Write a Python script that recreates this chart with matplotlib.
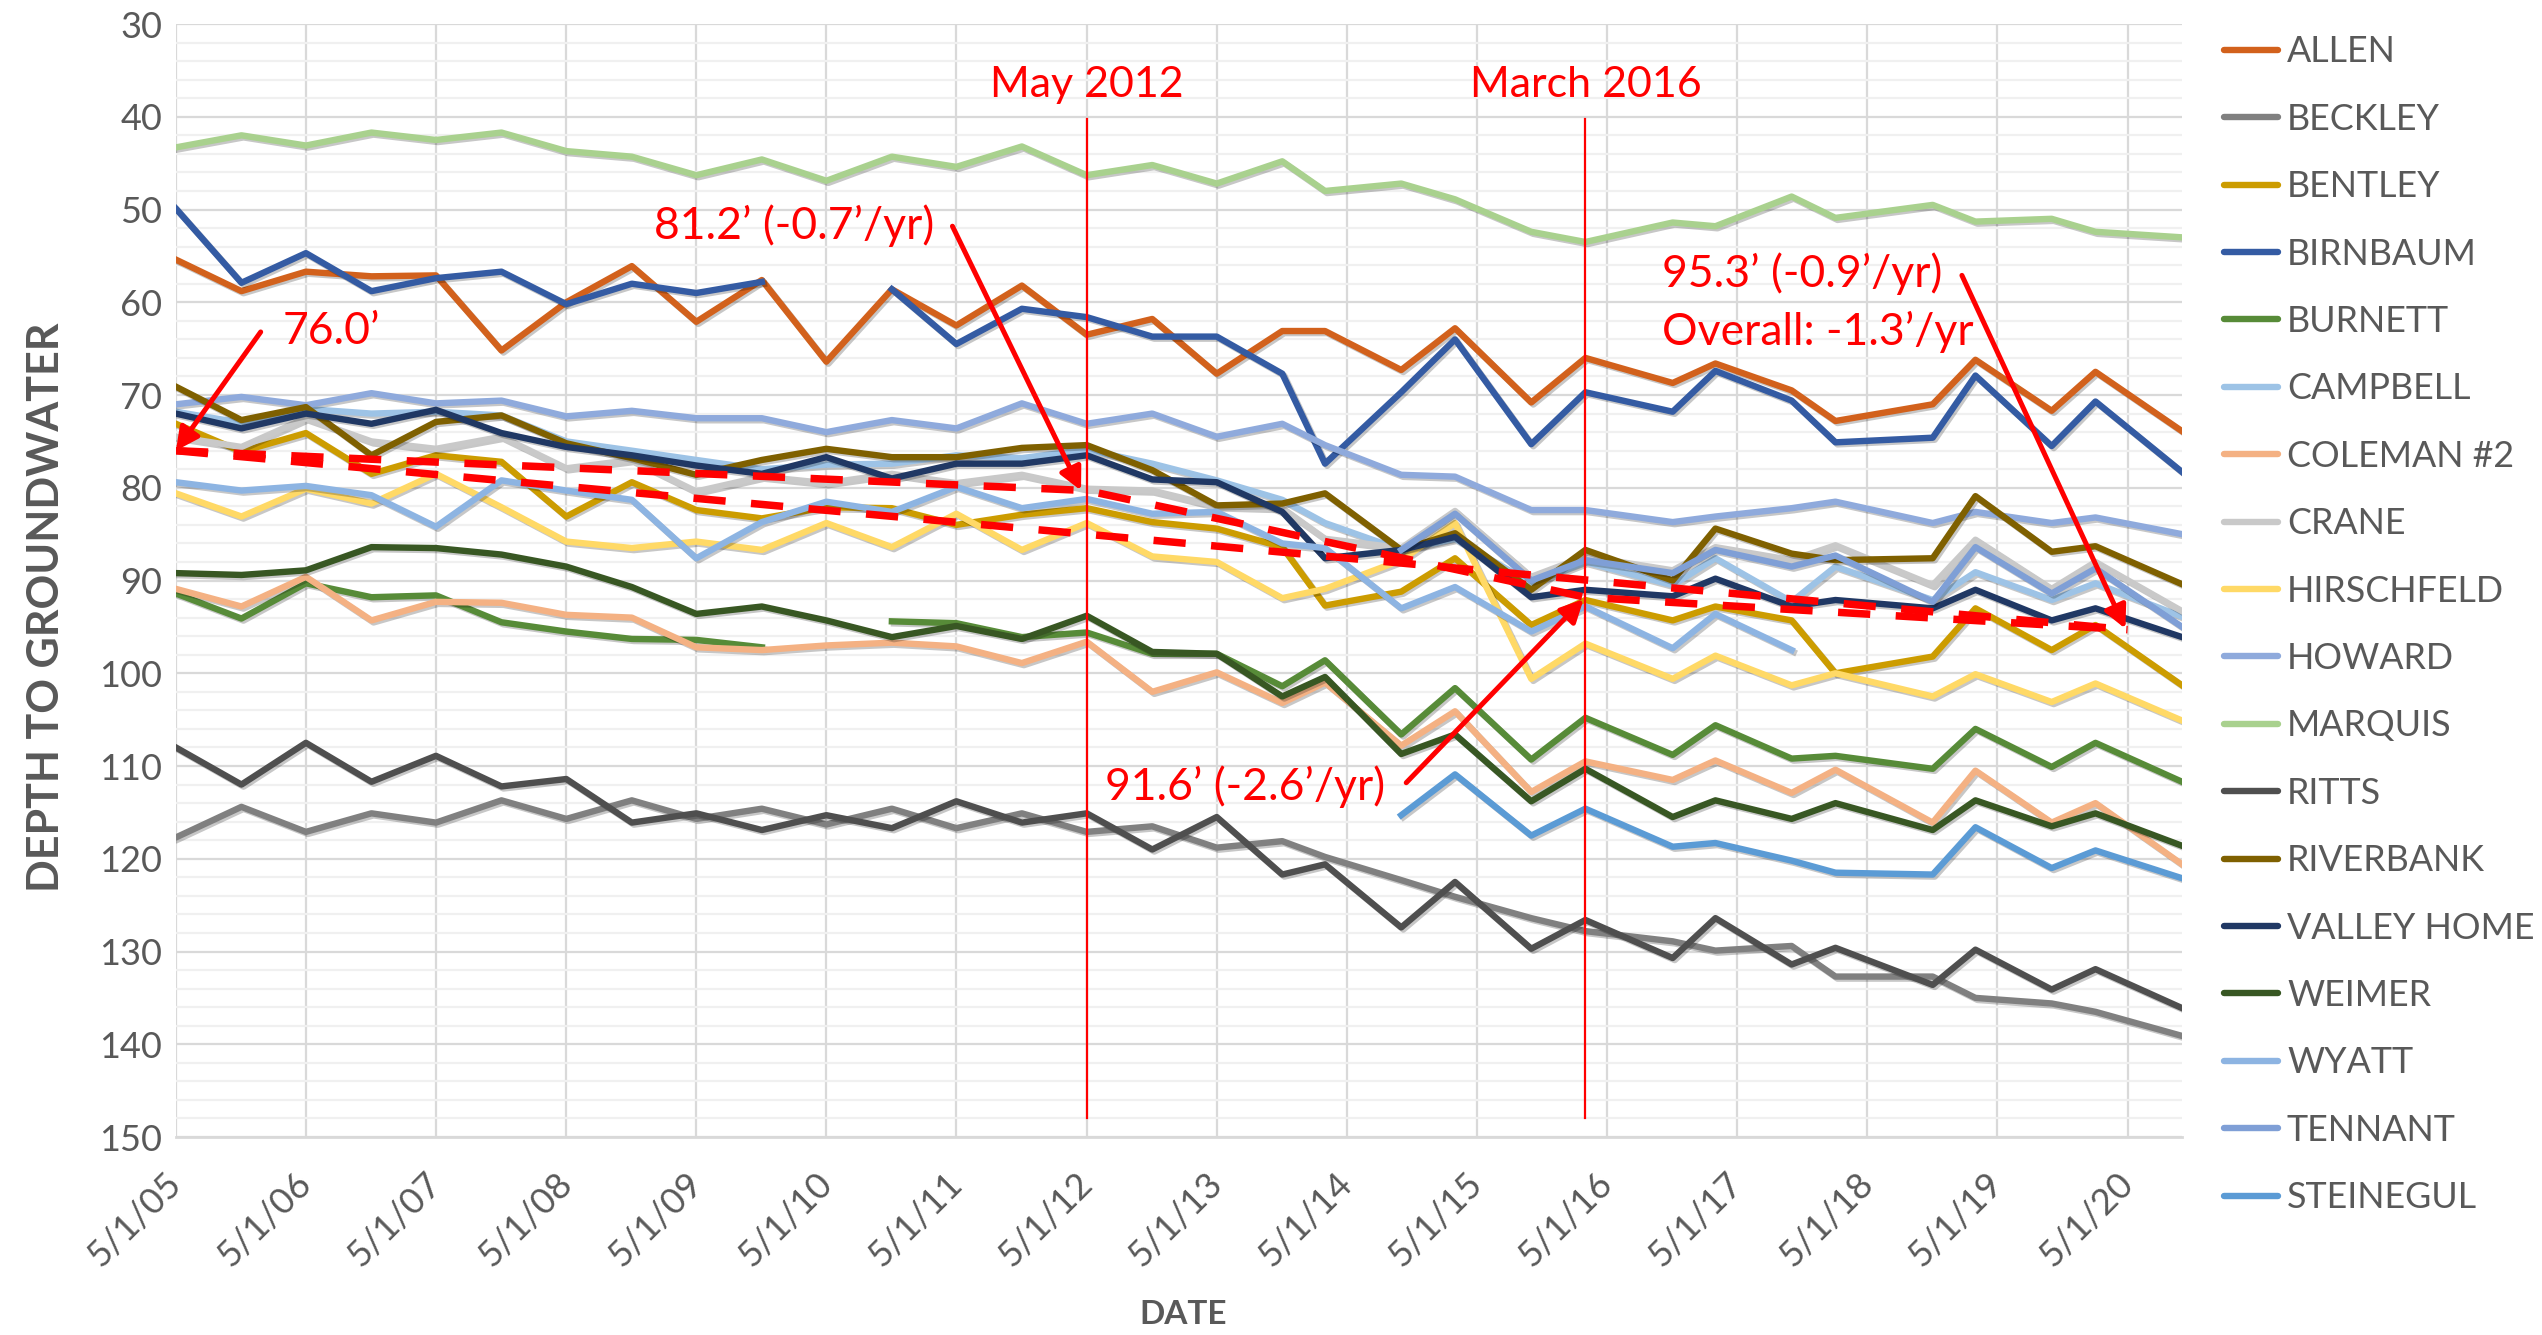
import numpy as np
import pandas as pd
import matplotlib
matplotlib.use('Agg')
import matplotlib.pyplot as plt
import matplotlib.dates as mdates
import matplotlib.patheffects as pe
from matplotlib.lines import Line2D
from matplotlib.ticker import MultipleLocator, FuncFormatter

plt.rcParams['font.family'] = ['Lato', 'DejaVu Sans']

nan = np.nan

# sample dates (semi-annual, irregular after 2013)
dates = pd.to_datetime([
    '2005-05-01', '2005-11-01', '2006-05-01', '2006-11-01', '2007-05-01', '2007-11-01',
    '2008-05-01', '2008-11-01', '2009-05-01', '2009-11-01', '2010-05-01', '2010-11-01',
    '2011-05-01', '2011-11-01', '2012-05-01', '2012-11-01', '2013-05-01', '2013-11-01',
    '2014-03-01', '2014-10-01', '2015-03-01', '2015-10-01', '2016-03-01', '2016-11-01',
    '2017-03-01', '2017-10-01', '2018-02-01', '2018-11-01', '2019-03-01', '2019-10-01',
    '2020-02-01', '2020-10-01'])

allen = [55.4, 58.8, 56.7, 57.2, 57.1, 65.2, 60.0, 56.1, 62.1, 57.6, 66.4, 58.6, 62.5, 58.2, 63.5, 61.8,
         67.7, 63.1, 63.1, 67.3, 62.8, 70.8, 66.0, 68.7, 66.6, 69.5, 72.8, 71.0, 66.2, 71.7, 67.5, 73.9]
beckley = [117.7, 114.4, 117.1, 115.1, 116.1, 113.7, 115.7, 113.7, 115.7, 114.6, 116.3, 114.6, 116.7, 115.1, 117.1, 116.5,
           118.8, 118.1, 119.8, 122.3, 124.1, 126.4, 127.8, 128.9, 129.9, 129.4, 132.7, 132.7, 135.0, 135.6, 136.5, 139.1]
bentley = [73.1, 76.1, 74.1, 78.5, 76.5, 77.2, 83.1, 79.4, 82.4, 83.3, 82.1, 82.2, 84.0, 82.9, 82.2, 83.7,
           84.4, 86.4, 92.7, 91.2, 87.6, 94.8, 92.1, 94.3, 92.8, 94.3, 100.0, 98.2, 93.0, 97.5, 94.8, 101.3]
birnbaum = [49.9, 57.9, 54.7, 58.8, 57.4, 56.7, 60.2, 58.0, 59.0, 57.8, nan, 58.6, 64.5, 60.7, 61.6, 63.7,
            63.7, 67.7, 77.4, 69.7, 64.0, 75.3, 69.7, 71.8, 67.4, 70.6, 75.1, 74.6, 67.9, 75.5, 70.7, 78.3]
burnett = [91.4, 94.1, 90.3, 91.8, 91.6, 94.5, 95.5, 96.3, 96.4, 97.2, nan, 94.4, 94.6, 96.1, 95.6, 97.9,
           97.9, 101.4, 98.6, 106.6, 101.6, 109.3, 104.8, 108.8, 105.6, 109.2, 108.9, 110.3, 106.0, 110.1, 107.5, 111.7]
campbell = [71.8, 73.0, 71.5, 72.0, 71.8, 72.2, 75.0, 76.0, 77.0, 78.0, 77.5, 77.4, 76.5, 76.8, 75.9, 77.4,
            79.2, 81.3, 83.8, 86.7, 85.5, 90.3, 88.0, 90.5, 87.6, 92.3, 88.5, 92.1, 89.1, 92.1, 90.3, 93.9]
coleman2 = [90.9, 92.8, 89.6, 94.3, 92.3, 92.4, 93.7, 94.0, 97.2, 97.5, 97.0, 96.7, 97.1, 98.9, 96.6, 102.0,
            99.9, 103.2, 101.0, 107.8, 104.1, 112.8, 109.5, 111.5, 109.4, 112.9, 110.4, 116.1, 110.5, 116.1, 114.0, 120.6]
crane = [74.5, 75.6, 72.5, 75.0, 75.8, 74.5, 77.9, 77.0, 80.4, 78.8, 79.5, 78.5, 79.5, 78.6, 80.1, 80.3,
         82.0, 82.2, 85.5, 86.5, 82.5, 89.6, 87.4, 88.9, 86.4, 87.8, 86.2, 90.5, 85.6, 90.9, 88.0, 93.3]
hirschfeld = [80.6, 83.1, 80.1, 81.7, 78.5, 82.1, 85.8, 86.5, 85.8, 86.7, 83.8, 86.4, 82.8, 86.7, 83.8, 87.4,
              88.0, 91.9, 90.9, 87.8, 83.8, 100.6, 96.8, 100.6, 98.1, 101.3, 100.0, 102.5, 100.1, 103.1, 101.1, 105.1]
howard = [71.0, 70.2, 71.1, 69.8, 70.9, 70.6, 72.3, 71.7, 72.5, 72.5, 74.0, 72.7, 73.6, 70.9, 73.1, 72.0,
          74.5, 73.1, 75.4, 78.6, 78.8, 82.4, 82.4, 83.7, 83.1, 82.2, 81.5, 83.8, 82.6, 83.8, 83.2, 85.0]
marquis = [43.3, 42.0, 43.1, 41.7, 42.5, 41.7, 43.7, 44.3, 46.3, 44.6, 46.9, 44.3, 45.4, 43.2, 46.3, 45.2,
           47.2, 44.8, 48.0, 47.2, 48.9, 52.4, 53.5, 51.4, 51.8, 48.6, 50.9, 49.5, 51.3, 51.0, 52.4, 53.0]
ritts = [108.0, 112.0, 107.5, 111.7, 108.9, 112.2, 111.4, 116.1, 115.1, 116.9, 115.3, 116.7, 113.8, 116.1, 115.1, 119.0,
         115.5, 121.7, 120.6, 127.4, 122.5, 129.7, 126.6, 130.7, 126.4, 131.4, 129.6, 133.6, 129.8, 134.1, 131.9, 136.1]
riverbank = [69.1, 72.7, 71.3, 76.5, 72.9, 72.2, 75.2, 76.8, 78.6, 77.0, 75.8, 76.7, 76.7, 75.7, 75.4, 78.1,
             81.9, 81.7, 80.6, 86.7, 84.9, 91.0, 86.7, 90.0, 84.4, 87.1, 87.8, 87.6, 80.9, 86.9, 86.3, 90.4]
valley_home = [72.0, 73.6, 72.0, 73.1, 71.6, 74.1, 75.6, 76.5, 77.6, 78.5, 76.7, 79.0, 77.4, 77.4, 76.5, 79.1,
               79.4, 82.6, 87.6, 86.7, 85.3, 91.8, 91.0, 91.7, 89.8, 92.8, 92.1, 93.0, 91.0, 94.3, 93.0, 96.1]
weimer = [89.2, 89.4, 88.9, 86.4, 86.5, 87.2, 88.5, 90.7, 93.6, 92.8, 94.3, 96.1, 94.9, 96.3, 93.8, 97.7,
          97.9, 102.5, 100.4, 108.7, 106.6, 113.8, 110.3, 115.5, 113.7, 115.7, 114.0, 116.9, 113.7, 116.5, 115.1, 118.6]
wyatt = [79.4, 80.3, 79.8, 80.8, 84.2, 79.2, 80.3, 81.3, 87.6, 83.7, 81.5, 82.6, 79.9, 82.2, 81.2, 82.8,
         82.6, 86.0, 86.5, 93.0, 90.7, 95.5, 92.8, 97.3, 93.6, 97.5, nan, nan, nan, nan, nan, nan]
tennant = [nan] * 19 + [86.7, 82.8, 90.0, 87.8, 89.2, 86.7, 88.5, 87.3, 92.3, 86.4, 91.4, 88.7, 95.0]
steinegul = [nan] * 19 + [115.3, 110.9, 117.5, 114.6, 118.7, 118.3, 120.2, 121.5, 121.7, 116.6, 121.0, 119.1, 122.1]

well_names = ['ALLEN', 'BECKLEY', 'BENTLEY', 'BIRNBAUM', 'BURNETT', 'CAMPBELL', 'COLEMAN #2', 'CRANE',
              'HIRSCHFELD', 'HOWARD', 'MARQUIS', 'RITTS', 'RIVERBANK', 'VALLEY HOME', 'WEIMER', 'WYATT',
              'TENNANT', 'STEINEGUL']
well_values = [allen, beckley, bentley, birnbaum, burnett, campbell, coleman2, crane, hirschfeld, howard,
               marquis, ritts, riverbank, valley_home, weimer, wyatt, tennant, steinegul]
well_colors = ['#D2611C', '#808080', '#CC9C00', '#345BA3', '#578B38', '#9DC3E6', '#F4B183', '#C9C9C9',
               '#FFD966', '#8FAADC', '#A9D18E', '#4F4F4F', '#7F6000', '#203864', '#385723', '#8DB4E2',
               '#7F9FD6', '#5B9BD5']

# average trend lines
trend_piece_dates = pd.to_datetime(['2005-05-01', '2012-05-01', '2016-03-01', '2020-05-01'])
trend_piece_vals = [76.0, 80.3, 91.8, 95.3]
trend_all_dates = pd.to_datetime(['2005-05-01', '2020-05-01'])
trend_all_vals = [76.0, 95.3]

marker_dates = pd.to_datetime(['2012-05-01', '2016-03-01'])
marker_labels = ['May 2012', 'March 2016']

fig = plt.figure(figsize=(25.42, 13.35), dpi=100)
ax = fig.add_axes([0.0692, 0.1483, 0.7892, 0.8337])

shadow = [pe.SimpleLineShadow(offset=(1.5, -1.5), shadow_color='black', alpha=0.22), pe.Normal()]
for vals, col in zip(well_values, well_colors):
    ax.plot(dates, vals, color=col, lw=4.6, path_effects=shadow, zorder=3)

ax.plot(trend_piece_dates, trend_piece_vals, color='red', lw=5.4, dashes=(4.3, 3.4),
        dash_capstyle='butt', zorder=5)
ax.plot(trend_all_dates, trend_all_vals, color='red', lw=5.4, dashes=(4.3, 3.4),
        dash_capstyle='butt', zorder=5)

for d, lab in zip(marker_dates, marker_labels):
    ax.plot([d, d], [40.2, 147.9], color='red', lw=1.6, zorder=6)
    ax.text(d, 36.6, lab, color='red', fontsize=31, ha='center', va='center', zorder=7)

# annotations
red_txt = dict(color='red', fontsize=32, va='center', ha='left', zorder=7)
arrow = dict(arrowstyle='-|>', color='red', lw=3.6, mutation_scale=34, shrinkA=0, shrinkB=0)
ax.text(pd.Timestamp('2006-02-25'), 63.2, '76.0\u2019', **red_txt)
ax.annotate('', xy=(pd.Timestamp('2005-05-01'), 76.0), xytext=(pd.Timestamp('2005-12-25'), 63.2),
            arrowprops=arrow, zorder=7)
ax.text(pd.Timestamp('2009-01-01'), 51.7, '81.2\u2019 (-0.7\u2019/yr)', **red_txt)
ax.annotate('', xy=(pd.Timestamp('2012-04-15'), 80.3), xytext=(pd.Timestamp('2011-04-20'), 51.8),
            arrowprops=arrow, zorder=7)
ax.text(pd.Timestamp('2012-06-20'), 112.2, '91.6\u2019 (-2.6\u2019/yr)', **red_txt)
ax.annotate('', xy=(pd.Timestamp('2016-02-25'), 92.0), xytext=(pd.Timestamp('2014-10-15'), 111.8),
            arrowprops=arrow, zorder=7)
ax.text(pd.Timestamp('2016-10-01'), 56.9, '95.3\u2019 (-0.9\u2019/yr)', **red_txt)
ax.text(pd.Timestamp('2016-10-01'), 63.2, 'Overall: -1.3\u2019/yr', **red_txt)
ax.annotate('', xy=(pd.Timestamp('2020-04-25'), 95.2), xytext=(pd.Timestamp('2019-01-22'), 57.1),
            arrowprops=arrow, zorder=7)

# axes styling
ax.set_ylim(150, 30)
ax.set_xlim(dates[0], dates[-1])
ax.yaxis.set_major_locator(MultipleLocator(10))
ax.yaxis.set_minor_locator(MultipleLocator(2))
ax.xaxis.set_major_locator(mdates.YearLocator(base=1, month=5, day=1))
ax.xaxis.set_major_formatter(FuncFormatter(
    lambda x, pos: (lambda d: f'{d.month}/{d.day}/{d:%y}')(mdates.num2date(x))))
ax.grid(which='major', axis='both', color='#D9D9D9', lw=1.6, zorder=0)
ax.grid(which='minor', axis='y', color='#F0F0F0', lw=1.6, zorder=0)
ax.set_axisbelow(True)
for s in ['top', 'right', 'left']:
    ax.spines[s].set_visible(False)
ax.spines['bottom'].set_color('#D9D9D9')
ax.spines['bottom'].set_linewidth(2)
ax.tick_params(which='both', length=0)
ax.tick_params(axis='y', labelsize=26, labelcolor='#595959', pad=10)
ax.tick_params(axis='x', labelsize=26, labelcolor='#595959', pad=30)
for lab in ax.get_xticklabels():
    lab.set_rotation(45)
    lab.set_ha('right')
    lab.set_va('center')
    lab.set_rotation_mode('anchor')

fig.text(0.0179, 0.545, 'DEPTH TO GROUNDWATER', rotation=90, ha='center', va='center',
         fontsize=31, fontweight='bold', color='#595959')
fig.text(0.4654, 0.0150, 'DATE', ha='center', va='center', fontsize=24, fontweight='bold', color='#595959')

handles = [Line2D([], [], color=c, lw=4.6, solid_capstyle='round') for c in well_colors]
fig.legend(handles, well_names, loc='upper left', bbox_to_anchor=(0.875, 0.9735), frameon=False,
           fontsize=25.8, labelcolor='#595959', handlelength=1.5, handletextpad=0.25,
           labelspacing=0.96, borderaxespad=0, borderpad=0)

fig.savefig('out.png', dpi=100)
